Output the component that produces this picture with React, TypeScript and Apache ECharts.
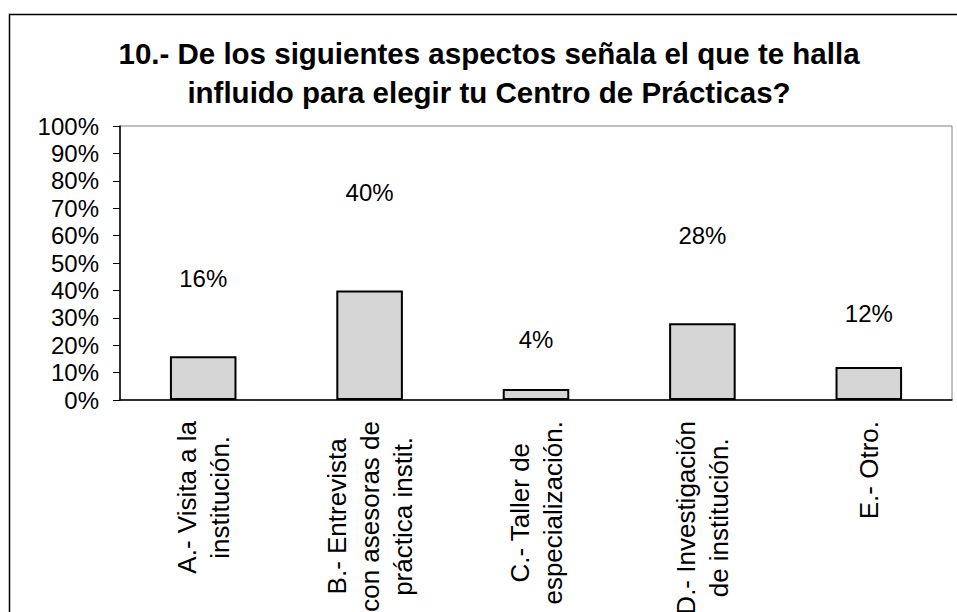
import React, { useEffect, useRef } from "react";
import * as echarts from "echarts";

const titleLines = [
  "10.- De los siguientes aspectos señala el que te halla",
  "influido para elegir tu Centro de Prácticas?",
];
const categories = [
  "A.- Visita a la\ninstitución.",
  "B.- Entrevista\ncon asesoras de\npráctica instit.",
  "C.- Taller de\nespecialización.",
  "D.- Investigación\nde institución.",
  "E.- Otro.",
];
const values = [16, 40, 4, 28, 12];
const labelDistances = [66, 86, 38, 76, 42];
const yTicks = { min: 0, max: 100, interval: 10 };

const FONT = "'Liberation Sans', Arial, sans-serif";

export default function App() {
  const ref = useRef<HTMLDivElement>(null);
  useEffect(() => {
    document.body.style.margin = "0";
    const chart = echarts.init(ref.current!, null, { renderer: "svg" });
    chart.setOption({
      animation: false,
      backgroundColor: "#fff",
      title: {
        text: titleLines.join("\n"),
        left: 489,
        textAlign: "center",
        top: 34,
        padding: 0,
        textStyle: {
          fontFamily: FONT,
          fontSize: 29.5,
          fontWeight: "bold",
          color: "#000",
          lineHeight: 39,
        },
      },
      graphic: [
        {
          type: "rect",
          shape: { x: 9.5, y: 14.5, width: 1000, height: 700 },
          style: { fill: "none", stroke: "#000", lineWidth: 1.5 },
          silent: true,
          z: -1,
        },
      ],
      grid: {
        left: 120,
        right: 5,
        top: 126,
        bottom: 212,
        show: true,
        borderColor: "#808080",
        borderWidth: 1,
        outerBoundsMode: "none",
      },
      xAxis: {
        type: "category",
        data: categories,
        axisLine: { lineStyle: { color: "#000", width: 1.5 } },
        axisTick: { length: 8, lineStyle: { color: "#000" } },
        axisLabel: {
          interval: 0,
          rotate: 90,
          margin: 21,
          formatter: (v: string) =>
            v
              .split("\n")
              .map((l) => `{c|${l}}`)
              .join("\n"),
          rich: {
            c: {
              align: "center",
              fontFamily: FONT,
              fontSize: 26,
              lineHeight: 33,
              color: "#000",
            },
          },
        },
      },
      yAxis: {
        type: "value",
        min: yTicks.min,
        max: yTicks.max,
        interval: yTicks.interval,
        splitLine: { show: false },
        axisLine: { show: true, lineStyle: { color: "#000", width: 1.5 } },
        axisTick: { show: true, length: 7, lineStyle: { color: "#000" } },
        axisLabel: {
          formatter: "{value}%",
          margin: 21,
          fontFamily: FONT,
          fontSize: 24,
          color: "#000",
        },
      },
      series: [
        {
          type: "bar",
          barWidth: "40%",
          data: values.map((v, i) => ({
            value: v,
            label: { distance: labelDistances[i] },
          })),
          itemStyle: {
            color: "#d6d6d6",
            borderColor: "#000",
            borderWidth: 2,
          },
          label: {
            show: true,
            position: "top",
            formatter: "{c}%",
            fontFamily: FONT,
            fontSize: 24,
            color: "#000",
          },
        },
      ],
    });
    return () => chart.dispose();
  }, []);
  return <div ref={ref} style={{ width: 957, height: 612 }} />;
}
